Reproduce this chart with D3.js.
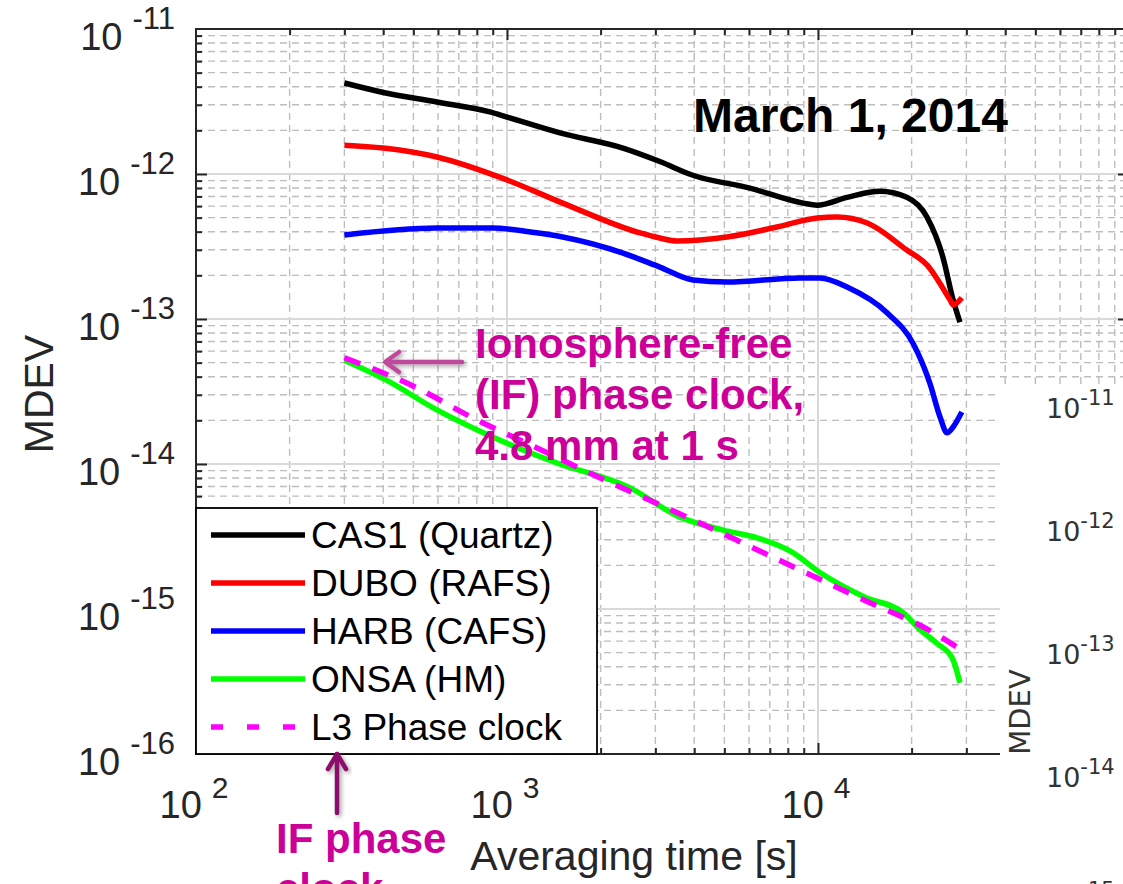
<!DOCTYPE html>
<html>
<head>
<meta charset="utf-8">
<script src="https://cdn.jsdelivr.net/npm/d3@7"></script>
<style>
  html, body { margin: 0; padding: 0; background: #fff; }
  svg { display: block; }
</style>
</head>
<body>
<svg id="chart" width="1123" height="884"></svg>
<script>
// ---------------- DATA ----------------
const seriesNames = ["CAS1 (Quartz)", "DUBO (RAFS)", "HARB (CAFS)", "ONSA (HM)", "L3 Phase clock"];

const tauCAS1 = [300, 400, 595, 880, 1000, 1480, 2360, 3100, 3960, 6040, 8950, 9930, 12400, 15800, 19300, 22400, 25200, 27200, 28600];
const mdevCAS1 = [4.24e-12, 3.65e-12, 3.14e-12, 2.68e-12, 2.47e-12, 1.92e-12, 1.51e-12, 1.22e-12, 9.8e-13, 8.0e-13, 6.3e-13, 6.1e-13, 6.9e-13, 7.6e-13, 6.9e-13, 5.05e-13, 2.68e-13, 1.35e-13, 9.5e-14];

const tauDUBO = [300, 400, 595, 1000, 1510, 2680, 3100, 3520, 5100, 7380, 9930, 11500, 14400, 19300, 22400, 26600, 27200, 29000];
const mdevDUBO = [1.58e-12, 1.51e-12, 1.31e-12, 9.1e-13, 6.3e-13, 3.92e-13, 3.62e-13, 3.45e-13, 3.68e-13, 4.31e-13, 4.97e-13, 5.05e-13, 4.59e-13, 2.99e-13, 2.36e-13, 1.35e-13, 1.25e-13, 1.40e-13];

const tauHARB = [300, 595, 900, 1190, 1510, 2360, 3100, 3960, 5100, 8750, 10150, 12400, 16700, 20200, 22900, 24700, 26000, 27200, 29000];
const mdevHARB = [3.80e-13, 4.24e-13, 4.24e-13, 3.98e-13, 3.68e-13, 2.85e-13, 2.28e-13, 1.86e-13, 1.80e-13, 1.92e-13, 1.92e-13, 1.66e-13, 1.10e-13, 6.8e-14, 3.6e-14, 2.1e-14, 1.64e-14, 1.80e-14, 2.28e-14];

const tauONSA = [300, 408, 595, 895, 1440, 2470, 3600, 4950, 6370, 8250, 10200, 14100, 18800, 21300, 24100, 27000, 28600];
const mdevONSA = [5.2e-14, 3.8e-14, 2.36e-14, 1.54e-14, 1.02e-14, 6.9e-15, 4.3e-15, 3.5e-15, 3.1e-15, 2.47e-15, 1.77e-15, 1.21e-15, 9.4e-16, 7.2e-16, 5.8e-16, 4.6e-16, 3.1e-16];

const tauL3 = [300, 506, 766, 1230, 2050, 3390, 5450, 8750, 14100, 22600, 29000];
const mdevL3 = [5.4e-14, 3.4e-14, 2.11e-14, 1.31e-14, 7.8e-15, 4.8e-15, 3.0e-15, 1.86e-15, 1.15e-15, 7.2e-16, 5.2e-16];

const xTickExponents = [2, 3, 4];
const yTickExponents = [-16, -15, -14, -13, -12, -11];
const insetTickExponents = [-11, -12, -13, -14, -15];

const titleText = "March 1, 2014";
const xLabel = "Averaging time [s]";
const yLabel = "MDEV";
const annotationLines = ["Ionosphere-free", "(IF) phase clock,", "4.8 mm at 1 s"];
const annotation2Lines = ["IF phase", "clock"];

// ---------------- CHART ----------------
const svg = d3.select("#chart");
const FONT = "'Liberation Sans', Arial, Helvetica, sans-serif";
const L = 196, R = 1129, T = 29, B = 754;

const x = d3.scaleLog().domain([1e2, 1e5]).range([L, R]);
const y = d3.scaleLog().domain([1e-16, 1e-11]).range([B, T]);

const defs = svg.append("defs");
const f = defs.append("filter").attr("id", "shadow").attr("x", "-20%").attr("y", "-20%").attr("width", "150%").attr("height", "150%");
f.append("feDropShadow").attr("dx", 2).attr("dy", 2).attr("stdDeviation", 2)
  .attr("flood-color", "#555").attr("flood-opacity", 0.55);

// minor / major values
const xMinor = [], yMinor = [];
for (let k = 2; k <= 4; k++) for (let m = 2; m <= 9; m++) xMinor.push(m * Math.pow(10, k));
for (let k = -16; k <= -12; k++) for (let m = 2; m <= 9; m++) yMinor.push(m * Math.pow(10, k));
const xMajor = [1e3, 1e4];
const yMajor = [1e-15, 1e-14, 1e-13, 1e-12];

const grid = svg.append("g");
grid.selectAll(".vmin").data(xMinor).join("line")
  .attr("x1", d => x(d)).attr("x2", d => x(d)).attr("y1", T).attr("y2", B)
  .attr("stroke", "#bdbdbd").attr("stroke-width", 1.4).attr("stroke-dasharray", "7,5");
grid.selectAll(".hmin").data(yMinor).join("line")
  .attr("x1", L).attr("x2", R).attr("y1", d => y(d)).attr("y2", d => y(d))
  .attr("stroke", "#bdbdbd").attr("stroke-width", 1.4).attr("stroke-dasharray", "7,5");
grid.selectAll(".vmaj").data(xMajor).join("line")
  .attr("x1", d => x(d)).attr("x2", d => x(d)).attr("y1", T).attr("y2", B)
  .attr("stroke", "#d9d9d9").attr("stroke-width", 2);
grid.selectAll(".hmaj").data(yMajor).join("line")
  .attr("x1", L).attr("x2", R).attr("y1", d => y(d)).attr("y2", d => y(d))
  .attr("stroke", "#d9d9d9").attr("stroke-width", 2);

// ticks via d3 axes (inward)
function tickAxis(axisFn, scale, vals, size, transform) {
  const g = svg.append("g").attr("transform", transform)
    .call(axisFn(scale).tickValues(vals).tickSize(size).tickFormat(""));
  g.select(".domain").remove();
  g.selectAll(".tick line").attr("stroke", "#262626").attr("stroke-width", 2);
}
tickAxis(d3.axisLeft, y, yMinor, -6, `translate(${L},0)`);
tickAxis(d3.axisLeft, y, yMajor, -11, `translate(${L},0)`);
tickAxis(d3.axisRight, y, yMinor, -6, `translate(${R},0)`);
tickAxis(d3.axisRight, y, yMajor, -11, `translate(${R},0)`);
tickAxis(d3.axisTop, x, xMinor, -6, `translate(0,${T})`);
tickAxis(d3.axisTop, x, xMajor, -11, `translate(0,${T})`);
tickAxis(d3.axisBottom, x, xMinor, -6, `translate(0,${B})`);
tickAxis(d3.axisBottom, x, xMajor, -11, `translate(0,${B})`);

// box
svg.append("rect").attr("x", L).attr("y", T).attr("width", R - L).attr("height", B - T)
  .attr("fill", "none").attr("stroke", "#262626").attr("stroke-width", 2);

// series
const line = d3.line().x(d => x(d[0])).y(d => y(d[1])).curve(d3.curveMonotoneX);
const zipS = (a, b) => a.map((t, i) => [t, b[i]]);
const series = [
  { data: zipS(tauCAS1, mdevCAS1), color: "#000000", dash: null },
  { data: zipS(tauDUBO, mdevDUBO), color: "#ff0000", dash: null },
  { data: zipS(tauHARB, mdevHARB), color: "#0000ff", dash: null },
  { data: zipS(tauONSA, mdevONSA), color: "#00ff00", dash: null },
  { data: zipS(tauL3, mdevL3), color: "#ff00ff", dash: "17,13" }
];
svg.append("g").selectAll("path").data(series).join("path")
  .attr("d", d => line(d.data))
  .attr("fill", "none").attr("stroke", d => d.color).attr("stroke-width", 5.5)
  .attr("stroke-linejoin", "round")
  .attr("stroke-dasharray", d => d.dash);

// legend
const lg = svg.append("g");
lg.append("rect").attr("x", L).attr("y", 508).attr("width", 401).attr("height", B - 508)
  .attr("fill", "#fff").attr("stroke", "#000").attr("stroke-width", 1.8);
seriesNames.forEach((name, i) => {
  const cy = 535 + i * 48;
  lg.append("line").attr("x1", 211).attr("x2", 305).attr("y1", cy).attr("y2", cy)
    .attr("stroke", series[i].color).attr("stroke-width", 5.5)
    .attr("stroke-dasharray", series[i].dash ? "12,24" : null);
  lg.append("text").attr("x", 311).attr("y", cy + 13).text(name)
    .attr("font-family", FONT).attr("font-size", 37).attr("fill", "#000");
});

// tick labels
const yl = svg.append("g").attr("font-family", FONT).attr("fill", "#262626");
yTickExponents.forEach(e => {
  const ty = y(Math.pow(10, e));
  const t = yl.append("text").attr("x", 175).attr("y", ty + 21).attr("text-anchor", "end")
    .attr("font-size", 38);
  t.append("tspan").text("10");
  t.append("tspan").attr("dx", 10).attr("dy", -21).attr("font-size", 31).text(String(e));
});
xTickExponents.forEach(e => {
  const tx = x(Math.pow(10, e));
  const t = yl.append("text").attr("x", tx - 2).attr("y", 818).attr("text-anchor", "middle")
    .attr("font-size", 38);
  t.append("tspan").text("10");
  t.append("tspan").attr("dx", 10).attr("dy", -20).attr("font-size", 30).text(String(e));
});

// axis titles
svg.append("text").attr("x", 634).attr("y", 870).attr("text-anchor", "middle")
  .attr("font-family", FONT).attr("font-size", 41).attr("fill", "#262626").text(xLabel);
svg.append("text").attr("transform", "translate(53,394) rotate(-90)").attr("text-anchor", "middle")
  .attr("font-family", FONT).attr("font-size", 41).attr("fill", "#262626").text(yLabel);

// title
svg.append("text").attr("x", 693).attr("y", 132).attr("font-family", FONT)
  .attr("font-weight", "bold").attr("font-size", 48).attr("fill", "#000").text(titleText);

// annotations
const annColor = "#cc0099";
annotationLines.forEach((s, i) => {
  svg.append("text").attr("x", 475).attr("y", 358 + i * 51).text(s)
    .attr("font-family", FONT).attr("font-weight", "bold").attr("font-size", 42).attr("fill", annColor);
});
annotation2Lines.forEach((s, i) => {
  svg.append("text").attr("x", 276).attr("y", 853 + i * 50).text(s)
    .attr("font-family", FONT).attr("font-weight", "bold").attr("font-size", 42).attr("fill", annColor);
});

// arrows
const a1 = svg.append("g").attr("filter", "url(#shadow)").attr("stroke", "#c04a9c")
  .attr("stroke-width", 4.5).attr("fill", "none").attr("stroke-linecap", "round").attr("stroke-linejoin", "round");
a1.append("line").attr("x1", 462).attr("y1", 362).attr("x2", 386).attr("y2", 362);
a1.append("polyline").attr("points", "399,352 385,362 399,372");

const a2 = svg.append("g").attr("filter", "url(#shadow)").attr("stroke", "#8c0f6c")
  .attr("stroke-width", 4.5).attr("fill", "none").attr("stroke-linecap", "round").attr("stroke-linejoin", "round");
a2.append("line").attr("x1", 337).attr("y1", 813).attr("x2", 337).attr("y2", 754);
a2.append("polyline").attr("points", "328,769 337,754 346,769");

// overlapping inset (second figure, cropped)
const inset = svg.append("g");
inset.append("rect").attr("x", 1000).attr("y", 386).attr("width", 123).attr("height", 498).attr("fill", "#fff");
const IFONT = "'DejaVu Sans', sans-serif";
insetTickExponents.forEach((e, i) => {
  const by = 418 + i * 123;
  const t = inset.append("text").attr("x", 1046).attr("y", by)
    .attr("font-family", IFONT).attr("font-size", 27).attr("fill", "#333");
  t.append("tspan").text("10");
  t.append("tspan").attr("dy", -13).attr("font-size", 21).text(String(e));
});
inset.append("text").attr("transform", "translate(1030,712) rotate(-90)").attr("text-anchor", "middle")
  .attr("font-family", IFONT).attr("font-size", 29).attr("fill", "#333").text(yLabel);
</script>
</body>
</html>
